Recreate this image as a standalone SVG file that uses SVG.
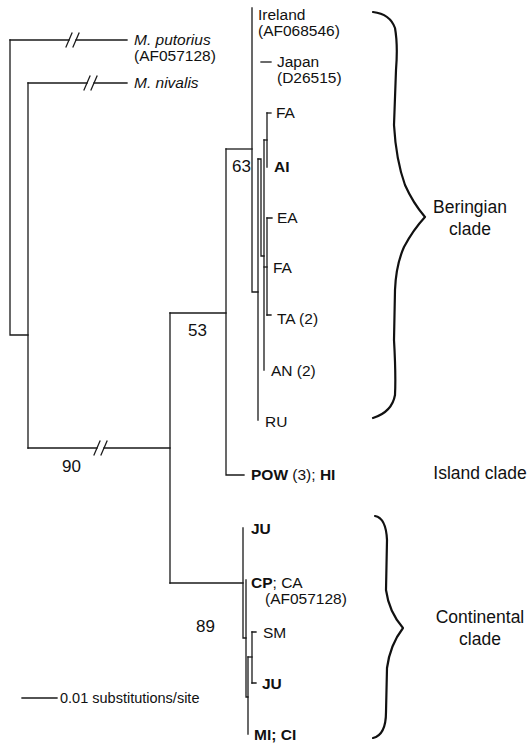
<svg xmlns="http://www.w3.org/2000/svg" width="529" height="744" viewBox="0 0 529 744">
<style>
.br{stroke:#1a1a1a;stroke-width:1.3;fill:none;stroke-linecap:square}
.brace{stroke:#111;stroke-width:2.2;fill:none;stroke-linejoin:round;stroke-linecap:round}
text{font-family:"Liberation Sans",Arial,sans-serif;fill:#111}
.leaf{font-size:15.5px}
.it{font-style:italic}
.b{font-weight:bold}
.sup{font-size:17px}
.clade{font-size:17.5px;text-anchor:middle}
.sc{font-size:14.5px}
</style>
<rect width="529" height="744" fill="#fff"/>
<g id="connectors" class="br">
  <!-- root -->
  <path d="M10,40 V335 H28"/>
  <path d="M10,40 H69 M76,40 H127"/>
  <path d="M28,83 V448"/>
  <path d="M28,83 H87 M94,83 H127"/>
  <path d="M28,448 H97 M104,448 H170"/>
  <!-- 53 / 89 node -->
  <path d="M170,313 V583"/>
  <path d="M170,313 H226"/>
  <path d="M226,149 V475 H244"/>
  <!-- Beringian -->
  <path d="M226,149 H252"/>
  <path d="M252,8 V292 H258"/>
  <path d="M258,159 V420"/>
  <path d="M258,159 H261 V256 H264"/>
  <path d="M261,62 H271"/>
  <path d="M264,140 V370"/>
  <path d="M264,140 H267"/>
  <path d="M267,113 V167"/>
  <path d="M267,113 H271"/>
  <path d="M264,267 H267"/>
  <path d="M267,218 V315"/>
  <path d="M267,218 H272 M267,315 H271"/>
  <!-- Continental -->
  <path d="M170,583 H243"/>
  <path d="M243,528 V638 H246"/>
  <path d="M246,580 V697 H248"/>
  <path d="M248,657 V734"/>
  <path d="M248,657 H252"/>
  <path d="M252,632 V683"/>
  <path d="M252,632 H256 M252,683 H256"/>
  <!-- break marks -->
  <path d="M66,47 L72,33 M73,47 L79,33"/>
  <path d="M84,90 L90,76 M91,90 L97,76"/>
  <path d="M94,455 L100,441 M101,455 L107,441"/>
  <!-- scale bar -->
  <path d="M22,698 H57"/>
</g>
<g id="braces">
  <path class="brace" d="M373,12 Q390,14 395,28 Q398,45 396,70 L394,125 Q396,160 405,185 Q413,203 425,217 Q413,230 404,247 Q396,265 395,290 L394,340 Q396,375 395,395 Q392,412 373,418"/>
  <path class="brace" d="M375,516 Q386,518 387,540 L386,590 Q389,612 403,628 Q390,645 387,668 L386,712 Q386,735 373,738"/>
</g>
<g id="outgroups">
  <text class="leaf it" x="134" y="45">M. putorius</text>
  <text class="leaf" x="134" y="61">(AF057128)</text>
  <text class="leaf it" x="134" y="88">M. nivalis</text>
</g>
<g id="beringian-leaves">
  <text class="leaf" x="258" y="20">Ireland</text>
  <text class="leaf" x="258" y="36">(AF068546)</text>
  <text class="leaf" x="277" y="67">Japan</text>
  <text class="leaf" x="277" y="83">(D26515)</text>
  <text class="leaf" x="276" y="118">FA</text>
  <text class="leaf b" x="274" y="172">AI</text>
  <text class="leaf" x="277" y="223">EA</text>
  <text class="leaf" x="273" y="273">FA</text>
  <text class="leaf" x="277" y="324">TA (2)</text>
  <text class="leaf" x="271" y="376">AN (2)</text>
  <text class="leaf" x="265" y="427">RU</text>
</g>
<g id="island-leaves">
  <text class="leaf" x="251" y="480"><tspan class="b">POW</tspan> (3); <tspan class="b">HI</tspan></text>
</g>
<g id="continental-leaves">
  <text class="leaf b" x="251" y="534">JU</text>
  <text class="leaf" x="251" y="588"><tspan class="b">CP</tspan>; CA</text>
  <text class="leaf" x="265" y="604">(AF057128)</text>
  <text class="leaf" x="263" y="638">SM</text>
  <text class="leaf b" x="262" y="689">JU</text>
  <text class="leaf b" x="254" y="740">MI; CI</text>
</g>
<g id="support">
  <text class="sup" x="232" y="172">63</text>
  <text class="sup" x="188" y="336">53</text>
  <text class="sup" x="62" y="472">90</text>
  <text class="sup" x="196" y="632">89</text>
</g>
<g id="clade-labels">
  <text class="clade" x="470" y="213">Beringian</text>
  <text class="clade" x="470" y="235">clade</text>
  <text class="clade" x="480" y="479">Island clade</text>
  <text class="clade" x="480" y="623">Continental</text>
  <text class="clade" x="480" y="645">clade</text>
</g>
<g id="scale">
  <text class="sc" x="60" y="703">0.01 substitutions/site</text>
</g>
</svg>
